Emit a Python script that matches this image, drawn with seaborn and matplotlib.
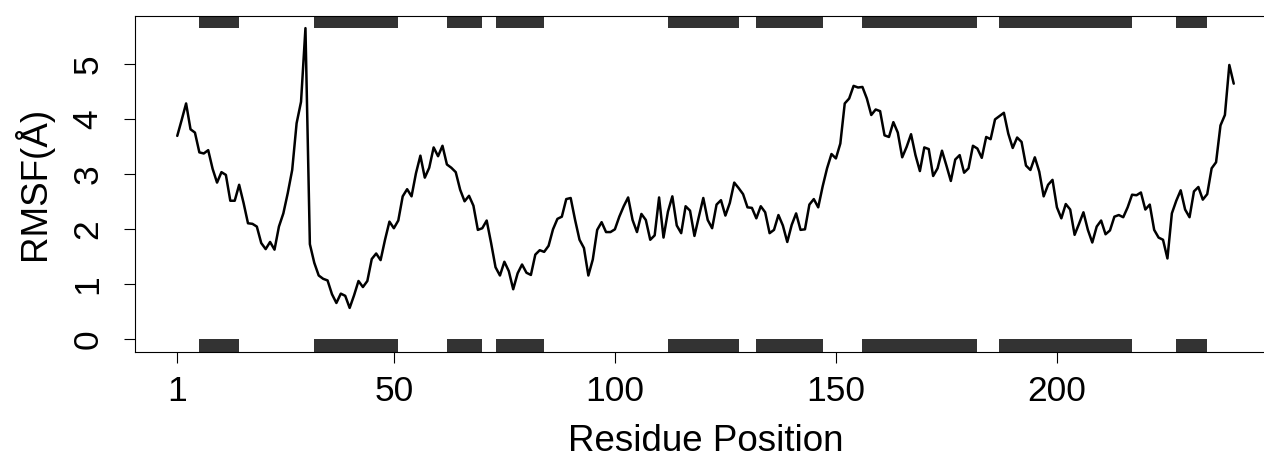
import matplotlib
matplotlib.use("Agg")
import matplotlib.pyplot as plt
import pandas as pd
import seaborn as sns

# RMSF per residue (residues 1..240)
rmsf = [
    3.70, 3.99, 4.29, 3.82, 3.76, 3.40, 3.38, 3.44, 3.10, 2.85,
    3.04, 2.99, 2.52, 2.52, 2.81, 2.48, 2.11, 2.10, 2.05, 1.75,
    1.64, 1.77, 1.63, 2.05, 2.29, 2.66, 3.08, 3.93, 4.32, 5.66,
    1.73, 1.39, 1.16, 1.10, 1.07, 0.82, 0.66, 0.83, 0.79, 0.57,
    0.80, 1.06, 0.95, 1.06, 1.46, 1.56, 1.44, 1.81, 2.14, 2.02,
    2.16, 2.60, 2.73, 2.60, 3.02, 3.34, 2.94, 3.12, 3.49, 3.33,
    3.52, 3.18, 3.12, 3.04, 2.72, 2.51, 2.61, 2.43, 1.99, 2.02,
    2.16, 1.75, 1.31, 1.16, 1.41, 1.24, 0.91, 1.20, 1.36, 1.21,
    1.17, 1.54, 1.62, 1.59, 1.70, 2.00, 2.19, 2.23, 2.55, 2.57,
    2.17, 1.81, 1.66, 1.16, 1.45, 1.99, 2.13, 1.95, 1.95, 2.00,
    2.23, 2.42, 2.58, 2.17, 1.95, 2.28, 2.17, 1.81, 1.89, 2.58,
    1.85, 2.32, 2.60, 2.07, 1.93, 2.42, 2.34, 1.88, 2.23, 2.57,
    2.17, 2.02, 2.45, 2.53, 2.25, 2.48, 2.85, 2.75, 2.64, 2.40,
    2.39, 2.20, 2.42, 2.31, 1.93, 1.99, 2.26, 2.07, 1.77, 2.08,
    2.29, 1.99, 2.00, 2.45, 2.55, 2.40, 2.78, 3.11, 3.37, 3.29,
    3.56, 4.29, 4.38, 4.61, 4.58, 4.59, 4.38, 4.08, 4.18, 4.15,
    3.71, 3.68, 3.95, 3.76, 3.31, 3.50, 3.73, 3.35, 3.06, 3.49,
    3.46, 2.97, 3.11, 3.43, 3.16, 2.88, 3.27, 3.35, 3.03, 3.11,
    3.52, 3.47, 3.30, 3.68, 3.64, 4.00, 4.06, 4.12, 3.74, 3.48,
    3.67, 3.59, 3.16, 3.08, 3.31, 3.05, 2.60, 2.81, 2.90, 2.40,
    2.20, 2.46, 2.36, 1.90, 2.10, 2.31, 1.99, 1.76, 2.05, 2.16,
    1.91, 1.98, 2.23, 2.26, 2.22, 2.40, 2.63, 2.62, 2.67, 2.36,
    2.45, 1.99, 1.85, 1.81, 1.47, 2.29, 2.52, 2.71, 2.36, 2.22,
    2.69, 2.77, 2.54, 2.64, 3.11, 3.22, 3.89, 4.08, 4.99, 4.65,
]
residues = list(range(1, len(rmsf) + 1))

# secondary structure segments (start, end residue)
ss_start = [6, 32, 62, 73, 112, 132, 156, 187, 227]
ss_end = [15, 51, 70, 84, 128, 147, 182, 217, 234]

x_ticks = [1, 50, 100, 150, 200]
y_ticks = [0, 1, 2, 3, 4, 5]

df = pd.DataFrame({"Residue": residues, "RMSF": rmsf})

sns.set_style("ticks")
plt.rcParams["font.family"] = ["Liberation Sans", "DejaVu Sans"]
plt.rcParams["text.color"] = "black"
plt.rcParams["axes.labelcolor"] = "black"

W, H = 1264, 463
fig = plt.figure(figsize=(W / 100, H / 100), dpi=100)
# axes box runs a bit past the right edge of the image, like the reference
ax = fig.add_axes([135 / W, 1 - 351.7 / H, 1141 / W, 336 / H])

sns.lineplot(data=df, x="Residue", y="RMSF", color="black", linewidth=1.8, ax=ax)

# R-style 4% axis padding
n = len(rmsf)
ymax = max(rmsf)
x_lo, x_hi = 1 - 0.04 * (n - 1), n + 0.04 * (n - 1)
y_lo, y_hi = -0.04 * ymax, ymax * 1.04
ax.set_xlim(x_lo, x_hi)
ax.set_ylim(y_lo, y_hi)

segs = [(s, e - s) for s, e in zip(ss_start, ss_end)]
ax.broken_barh(segs, (y_lo, 0 - y_lo), facecolor="#333333", edgecolor="none")
ax.broken_barh(segs, (ymax, y_hi - ymax), facecolor="#333333", edgecolor="none")

ax.set_xticks(x_ticks)
ax.set_yticks(y_ticks)
ax.tick_params(axis="both", direction="out", length=7.9, width=0.8,
               color="black", labelsize=25.5, labelcolor="black")
ax.tick_params(axis="x", pad=9)
ax.tick_params(axis="y", pad=14)
plt.setp(ax.get_yticklabels(), rotation=90, va="center")

for sp in ax.spines.values():
    sp.set_linewidth(0.8)
    sp.set_color("black")

ax.set_xlabel("Residue Position", fontsize=26.5)
ax.set_ylabel("RMSF(Å)", fontsize=26.5)
ax.xaxis.set_label_coords(0.5, -0.214)
ax.yaxis.set_label_coords(-0.072, 0.5)

fig.savefig("out.png", dpi=100)
print("Saved out.png")
